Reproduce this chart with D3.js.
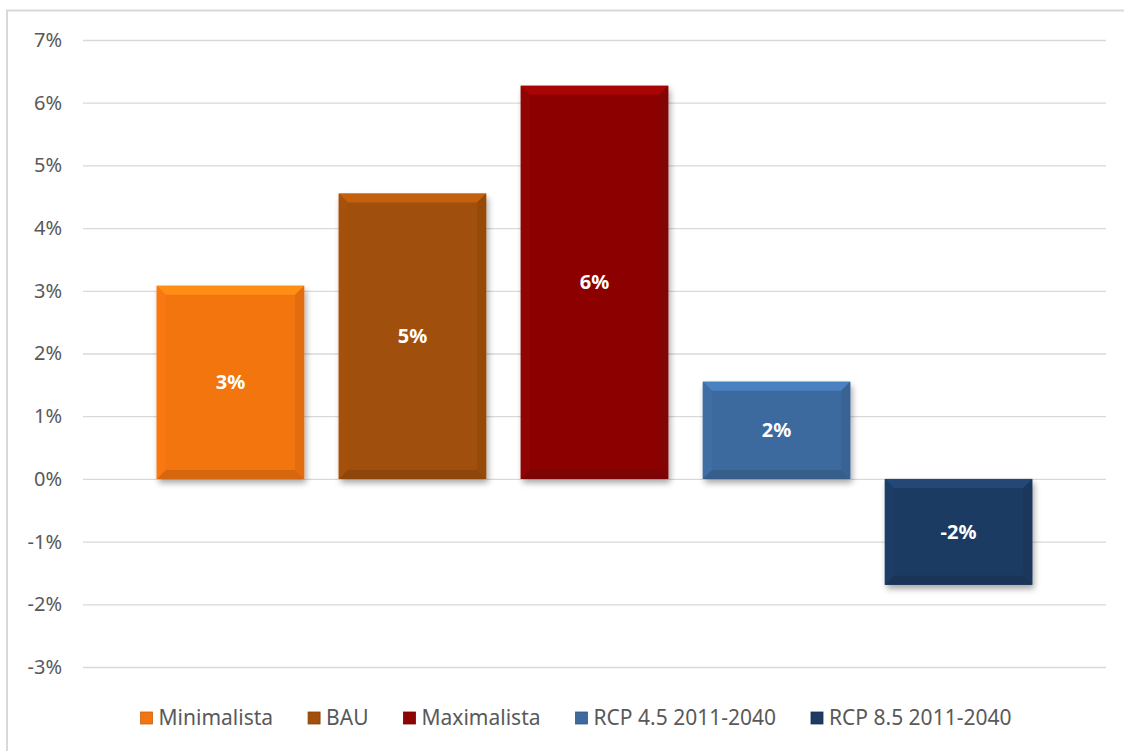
<!DOCTYPE html>
<html>
<head>
<meta charset="utf-8">
<script src="https://cdn.jsdelivr.net/npm/d3@7"></script>
<style>
  body { margin: 0; background: #fff; }
  svg { display: block; }
</style>
</head>
<body>
<svg id="canvas" width="1124" height="751"></svg>
<script>
// data
let seriesNames = ['Minimalista', 'BAU', 'Maximalista', 'RCP 4.5 2011-2040', 'RCP 8.5 2011-2040']
let seriesValues = [0.0308, 0.0455, 0.0627, 0.0155, -0.0169]
let seriesColors = ['#F27511', '#A14F0B', '#8C0404', '#3E6A9E', '#1D3B63']
let tickValues = [-0.03, -0.02, -0.01, 0, 0.01, 0.02, 0.03, 0.04, 0.05, 0.06, 0.07]

let svg = d3.select('#canvas')
let font = "'Noto Sans', 'Open Sans', sans-serif"

let plotLeft = 83, plotRight = 1106, plotTop = 40, plotBottom = 667

// plain hyphen instead of the unicode minus d3 uses
let pct = (v) => d3.format('.0%')(v).replace('\u2212', '-')

// chart frame (right and bottom fall off the picture)
svg.append('path')
    .attr('d', 'M7,760 L7,10.5 L1130,10.5')
    .attr('fill', 'none')
    .attr('stroke', '#d9d9d9')
    .attr('stroke-width', 2)

let y = d3.scaleLinear()
    .domain([-0.03, 0.07])
    .range([plotBottom, plotTop])

let xGroup = d3.scaleBand()
    .domain(['g'])
    .range([plotLeft, plotRight])
    .paddingOuter(0.062)

let x = d3.scaleBand()
    .domain(seriesNames)
    .range([xGroup('g'), xGroup('g') + xGroup.bandwidth()])
    .paddingInner(0.19)
    .paddingOuter(0.095)

let color = d3.scaleOrdinal().domain(seriesNames).range(seriesColors)

// gridlines + tick labels
let yAxis = d3.axisLeft(y)
    .tickValues(tickValues)
    .tickSize(-(plotRight - plotLeft))
    .tickPadding(21)
    .tickFormat(pct)

let axisG = svg.append('g')
    .attr('transform', 'translate(' + plotLeft + ',0)')
    .call(yAxis)

axisG.select('.domain').remove()
axisG.selectAll('.tick line').attr('stroke', '#d9d9d9').attr('stroke-width', 1.3)
axisG.selectAll('.tick text')
    .attr('fill', '#595959')
    .style('font-family', font)
    .style('font-size', '20px')

// soft shadow for the bars
let defs = svg.append('defs')
let shadow = defs.append('filter').attr('id', 'shadow')
    .attr('x', '-10%').attr('y', '-10%').attr('width', '130%').attr('height', '130%')
shadow.append('feGaussianBlur').attr('in', 'SourceAlpha').attr('stdDeviation', 3)
shadow.append('feOffset').attr('dx', 2).attr('dy', 4).attr('result', 'blur')
shadow.append('feComponentTransfer').append('feFuncA').attr('type', 'linear').attr('slope', 0.35)
let merge = shadow.append('feMerge')
merge.append('feMergeNode')
merge.append('feMergeNode').attr('in', 'SourceGraphic')

let bars = svg.selectAll('g.bar')
    .data(seriesNames)
    .enter()
    .append('g')
    .attr('class', 'bar')

let b = 9 // bevel depth

let geom = (d, i) => {
    let x0 = x(d), x1 = x(d) + x.bandwidth()
    let yTop = Math.min(y(seriesValues[i]), y(0))
    let yBot = Math.max(y(seriesValues[i]), y(0))
    return { x0: x0, x1: x1, y0: yTop, y1: yBot }
}

bars.append('rect')
    .attr('x', (d, i) => geom(d, i).x0)
    .attr('y', (d, i) => geom(d, i).y0)
    .attr('width', x.bandwidth())
    .attr('height', (d, i) => geom(d, i).y1 - geom(d, i).y0)
    .attr('fill', (d) => color(d))
    .attr('filter', 'url(#shadow)')

// bevel: light top, darker bottom, sides in between
bars.append('path')
    .attr('d', (d, i) => {
        let g = geom(d, i)
        return 'M' + g.x0 + ',' + g.y0 + ' L' + g.x1 + ',' + g.y0 + ' L' + (g.x1 - b) + ',' + (g.y0 + b) +
            ' L' + (g.x0 + b) + ',' + (g.y0 + b) + ' Z'
    })
    .attr('fill', (d) => d3.color(color(d)).brighter(0.55))

bars.append('path')
    .attr('d', (d, i) => {
        let g = geom(d, i)
        return 'M' + g.x0 + ',' + g.y1 + ' L' + g.x1 + ',' + g.y1 + ' L' + (g.x1 - b) + ',' + (g.y1 - b) +
            ' L' + (g.x0 + b) + ',' + (g.y1 - b) + ' Z'
    })
    .attr('fill', (d) => d3.color(color(d)).darker(0.35))

bars.append('path')
    .attr('d', (d, i) => {
        let g = geom(d, i)
        return 'M' + g.x0 + ',' + g.y0 + ' L' + (g.x0 + b) + ',' + (g.y0 + b) + ' L' + (g.x0 + b) + ',' + (g.y1 - b) +
            ' L' + g.x0 + ',' + g.y1 + ' Z'
    })
    .attr('fill', (d) => d3.color(color(d)).brighter(0.08))

bars.append('path')
    .attr('d', (d, i) => {
        let g = geom(d, i)
        return 'M' + g.x1 + ',' + g.y0 + ' L' + (g.x1 - b) + ',' + (g.y0 + b) + ' L' + (g.x1 - b) + ',' + (g.y1 - b) +
            ' L' + g.x1 + ',' + g.y1 + ' Z'
    })
    .attr('fill', (d) => d3.color(color(d)).darker(0.2))

bars.append('text')
    .text((d, i) => pct(seriesValues[i]))
    .attr('x', (d) => x(d) + x.bandwidth() / 2)
    .attr('y', (d, i) => (geom(d, i).y0 + geom(d, i).y1) / 2)
    .attr('dy', '0.35em')
    .attr('text-anchor', 'middle')
    .attr('fill', '#ffffff')
    .style('font-family', font)
    .style('font-weight', 'bold')
    .style('font-size', '20px')

// legend
let legend = svg.append('g').attr('class', 'legend')
let items = legend.selectAll('g')
    .data(seriesNames)
    .enter()
    .append('g')

items.append('rect')
    .attr('width', 12)
    .attr('height', 12)
    .attr('y', -6)
    .attr('fill', (d) => color(d))
    .attr('stroke', (d) => d3.color(color(d)).darker(0.5))
    .attr('stroke-width', 0.8)

items.append('text')
    .text((d) => d)
    .attr('x', 18)
    .attr('dy', '0.35em')
    .attr('fill', '#595959')
    .style('font-family', font)
    .style('font-size', '21px')

let gap = 35
let offset = 0
items.each(function () {
    let w = d3.select(this).select('text').node().getComputedTextLength()
    d3.select(this).attr('transform', 'translate(' + offset + ',0)')
    offset += 18 + w + gap
})
let totalW = offset - gap
legend.attr('transform', 'translate(' + (576 - totalW / 2) + ',718)')
</script>
</body>
</html>
